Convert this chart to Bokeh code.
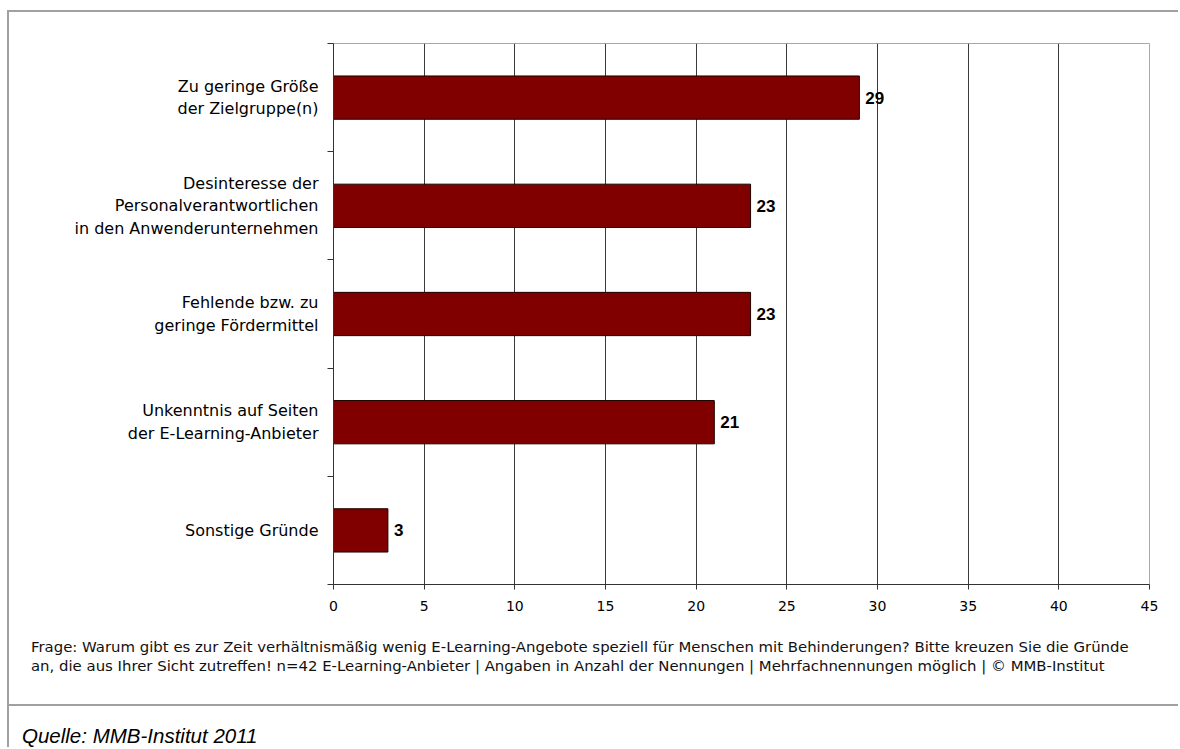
from bokeh.plotting import figure
from bokeh.models import (ColumnDataSource, LabelSet, Range1d, FixedTicker, Div)
from bokeh.layouts import column, row
from bokeh.core.properties import value
from bokeh.embed import file_html
from bokeh.resources import INLINE

try:
    from bokeh.models import GlobalInlineStyleSheet
except Exception:
    GlobalInlineStyleSheet = None

categories = [
    "Zu geringe Größe\nder Zielgruppe(n)",
    "Desinteresse der\nPersonalverantwortlichen\nin den Anwenderunternehmen",
    "Fehlende bzw. zu\ngeringe Fördermittel",
    "Unkenntnis auf Seiten\nder E-Learning-Anbieter",
    "Sonstige Gründe",
]
values = [29, 23, 23, 21, 3]
x_ticks = [0, 5, 10, 15, 20, 25, 30, 35, 40, 45]
grid_ticks = [5, 10, 15, 20, 25, 30, 35, 40]

footnote_lines = [
    "Frage: Warum gibt es zur Zeit verhältnismäßig wenig E-Learning-Angebote speziell für Menschen mit Behinderungen? Bitte kreuzen Sie die Gründe",
    "an, die aus Ihrer Sicht zutreffen! n=42 E-Learning-Anbieter | Angaben in Anzahl der Nennungen | Mehrfachnennungen möglich | © MMB-Institut",
]
source_text = "Quelle: MMB-Institut 2011"

n = len(categories)
pos = [i + 0.5 for i in range(n)]
src = ColumnDataSource(dict(y=pos, v=values, lab=[str(v) for v in values]))

FONT = "DejaVu Sans"
W = 1169
GRAY = "#a0a0a0"
HIDE = {"overflow": "hidden"}

p = figure(width=W, height=615, output_backend="svg", toolbar_location=None,
           x_range=Range1d(0, 45), y_range=Range1d(n, 0),
           min_border_left=324, min_border_right=29, min_border_top=31, min_border_bottom=43)

p.hbar(y="y", right="v", left=0, height=0.4, source=src,
       fill_color="#800000", line_color="#1a0000", line_width=1)

labels = LabelSet(x="v", y="y", text="lab", source=src, x_offset=6,
                  text_baseline="middle", text_align="left",
                  text_font=value("Liberation Sans"), text_font_style="bold",
                  text_font_size="17px", text_color="#000000")
p.add_layout(labels)

# x axis
p.xaxis.ticker = FixedTicker(ticks=x_ticks)
p.xaxis.axis_line_color = "#333333"
p.xaxis.major_tick_line_color = "#333333"
p.xaxis.major_tick_out = 5
p.xaxis.major_tick_in = 0
p.xaxis.minor_tick_line_color = None
p.xaxis.major_label_text_font = FONT
p.xaxis.major_label_text_font_size = "14px"
p.xaxis.major_label_text_color = "#000000"
p.xaxis.major_label_standoff = 11

# y axis
p.yaxis.ticker = FixedTicker(ticks=pos, minor_ticks=list(range(n + 1)))
p.yaxis.major_label_overrides = {pos[i]: categories[i] for i in range(n)}
p.yaxis.axis_line_color = "#333333"
p.yaxis.major_tick_line_color = None
p.yaxis.major_tick_out = 0
p.yaxis.major_tick_in = 0
p.yaxis.minor_tick_line_color = "#333333"
p.yaxis.minor_tick_out = 6
p.yaxis.minor_tick_in = 0
p.yaxis.major_label_text_font = FONT
p.yaxis.major_label_text_font_size = "16px"
p.yaxis.major_label_text_color = "#000000"
p.yaxis.major_label_text_line_height = 1.18
p.yaxis.major_label_standoff = 9

p.xgrid.ticker = FixedTicker(ticks=grid_ticks)
p.xgrid.grid_line_color = "#3a3a3a"
p.xgrid.grid_line_width = 1
p.ygrid.visible = False
p.outline_line_color = "#a8a8a8"
p.outline_line_width = 1
p.background_fill_color = "white"
p.border_fill_color = "white"

foot = Div(text=('<div style="padding:11px 0 0 22px; font-family:\'DejaVu Sans\'; font-size:14.9px; '
                 'line-height:19px; color:#111; white-space:nowrap;">'
                 + footnote_lines[0] + "<br>" + footnote_lines[1] + "</div>"),
           width=W, height=77, margin=0, styles=HIDE)
sep = Div(text="", width=W, height=2, margin=0, styles={"background-color": GRAY, "overflow": "hidden"})
quelle = Div(text=('<div style="padding:19px 0 0 13px; '
                   'font-family:\'Liberation Sans\'; font-style:italic; font-size:20.5px; line-height:22px; '
                   'color:#000;">'
                   + source_text + "</div>"),
             width=W, height=41, margin=0, styles=HIDE)

top_bar = Div(text="", width=W + 2, height=2, margin=0, styles={"background-color": GRAY, "overflow": "hidden"})
left_bar = Div(text="", width=2, height=615 + 77 + 2 + 41, margin=0,
               styles={"background-color": GRAY, "overflow": "hidden"})

inner = column(p, foot, sep, quelle, spacing=0, margin=0, styles=HIDE)
mid = row(left_bar, inner, spacing=0, margin=0, styles=HIDE)
root = column(top_bar, mid, spacing=0, margin=(10, 0, 0, 7), styles=HIDE)

if GlobalInlineStyleSheet is not None:
    root.stylesheets = [GlobalInlineStyleSheet(
        css="html, body { overflow: hidden !important; scrollbar-width: none; } "
            "::-webkit-scrollbar { display: none; width: 0; height: 0; }")]

open("out.html", "w").write(file_html(root, INLINE))
